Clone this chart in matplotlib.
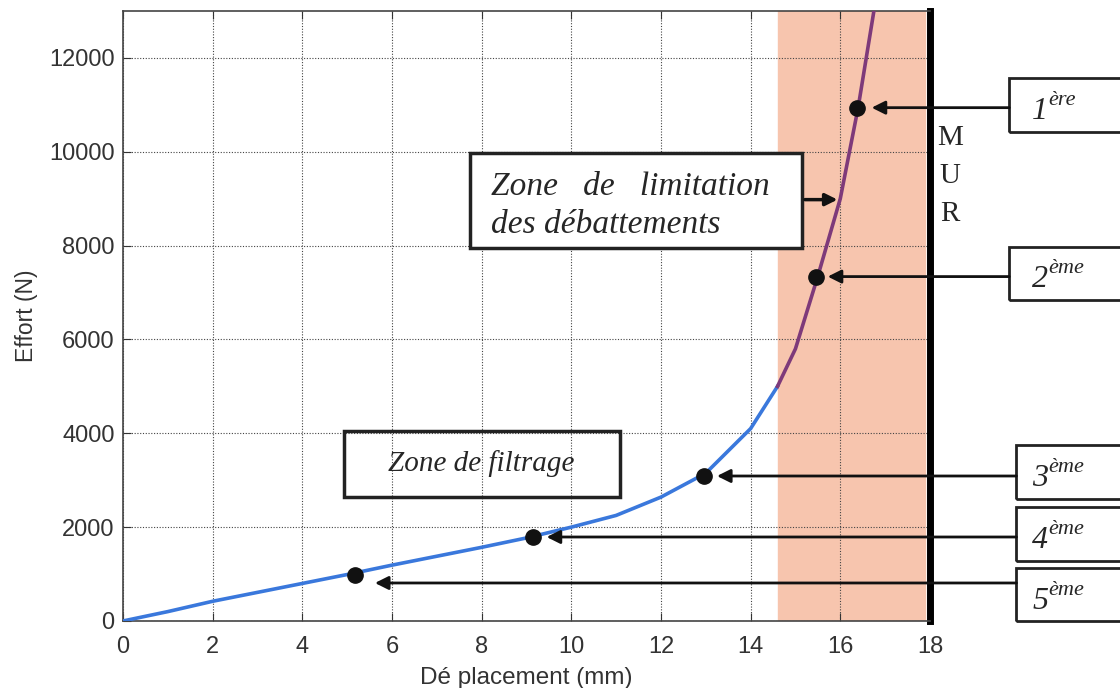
import matplotlib
matplotlib.use("Agg")
import matplotlib.pyplot as plt
from matplotlib.patches import Rectangle

# courbe effort / deplacement
x_filtrage = [0, 1, 2, 3, 4, 5, 6, 7, 8, 9, 10, 11, 12, 13, 14, 14.6]
y_filtrage = [0, 200, 420, 610, 800, 990, 1190, 1380, 1570, 1770, 2000, 2250, 2640, 3150, 4100, 5000]
x_limite = [14.6, 15.0, 15.5, 16.0, 16.4, 16.75]
y_limite = [5000, 5800, 7350, 9000, 10950, 13000]

# points de fonctionnement
rangs = ["1", "2", "3", "4", "5"]
exposants = ["ère", "ème", "ème", "ème", "ème"]
pt_x = [16.38, 15.45, 12.95, 9.15, 5.18]
pt_y = [10940, 7340, 3090, 1790, 980]
fleche_x = [16.7, 15.72, 13.25, 9.45, 5.62]
fleche_y = [10940, 7340, 3090, 1790, 810]
boite_x = [19.77, 19.77, 19.93, 19.93, 19.93]
boite_bas = [10430, 6850, 2600, 1280, 0]
boite_haut = [11570, 7980, 3745, 2425, 1130]

zone_mur = (14.6, 17.9)

plt.rcParams['font.family'] = ['Liberation Sans', 'DejaVu Sans']

fig = plt.figure(figsize=(11.2, 6.88), dpi=100)
ax = fig.add_axes([0.1098, 0.0974, 0.7205, 0.8866])

ax.axvspan(zone_mur[0], zone_mur[1], color="#f7c5ae", zorder=0)
ax.plot(x_filtrage, y_filtrage, color="#3a78dc", lw=2.6, zorder=3)
ax.plot(x_limite, y_limite, color="#7e3a7a", lw=2.6, zorder=3)
ax.plot(pt_x, pt_y, "o", color="#111111", ms=11, zorder=4)

ax.set_xlim(0, 18)
ax.set_ylim(0, 13000)
ax.set_xticks(range(0, 19, 2))
ax.set_yticks(range(0, 12001, 2000))
ax.grid(True, which="both", color="#444444", linestyle=(0, (1, 1.5)), lw=0.8)
ax.tick_params(direction="in", length=6, top=True, labelsize=17, colors="#333333", pad=6)
ax.tick_params(axis="x", pad=11)
for s in ["left", "bottom", "top"]:
    ax.spines[s].set_color("#444444")
    ax.spines[s].set_linewidth(1.2)
ax.spines["right"].set_color("black")
ax.spines["right"].set_linewidth(5)

ax.set_xlabel("Dé placement (mm)", fontsize=17.5, color="#333333", labelpad=6)
ax.set_ylabel("Effort (N)", fontsize=16.5, color="#333333", labelpad=8)

serif = "Liberation Serif"
encre = "#262626"

# zone de filtrage
ax.add_patch(Rectangle((4.92, 2640), 6.16, 1400, fill=False, ec="#222222", lw=2.5, zorder=5))
ax.text(8.0, 3360, "Zone de filtrage", family=serif, style="italic", fontsize=21,
        ha="center", va="center", color=encre, zorder=6)

# zone de limitation des debattements
ax.add_patch(Rectangle((7.75, 7940), 7.4, 2040, fc="white", ec="#222222", lw=2.5, zorder=5))
ax.text(8.2, 9250, "Zone   de   limitation", family=serif, style="italic", fontsize=24,
        ha="left", va="center", color=encre, zorder=6)
ax.text(8.2, 8450, "des débattements", family=serif, style="italic", fontsize=24,
        ha="left", va="center", color=encre, zorder=6)
ax.annotate("", xy=(16.0, 8980), xytext=(15.15, 8980),
            arrowprops=dict(arrowstyle="-|>", color="#111111", lw=2.5, mutation_scale=18),
            zorder=6)

# mur
for i, lettre in enumerate("MUR"):
    ax.text(18.45, 10300 - i * 810, lettre, family=serif, fontsize=21,
            ha="center", va="center", color=encre, clip_on=False)

# fleches et boites des rangs
for i in range(len(rangs)):
    ax.annotate("", xy=(fleche_x[i], fleche_y[i]), xytext=(boite_x[i], fleche_y[i]),
                arrowprops=dict(arrowstyle="-|>", color="#111111", lw=2,
                                mutation_scale=20, shrinkA=0, shrinkB=0),
                annotation_clip=False, zorder=6)
    ax.add_patch(Rectangle((boite_x[i], boite_bas[i]), 4, boite_haut[i] - boite_bas[i],
                           fill=False, ec="#222222", lw=2, clip_on=False))
    yc = (boite_bas[i] + boite_haut[i]) / 2
    base = ax.text(20.28, yc - 300, rangs[i], family=serif, style="italic",
                   fontsize=23, ha="left", va="baseline", color=encre, clip_on=False)
    ax.annotate(exposants[i], xy=(1.0, 0.72), xycoords=base, family=serif, style="italic",
                fontsize=16, ha="left", va="baseline", color=encre, annotation_clip=False)

fig.savefig("out.png", dpi=100)
